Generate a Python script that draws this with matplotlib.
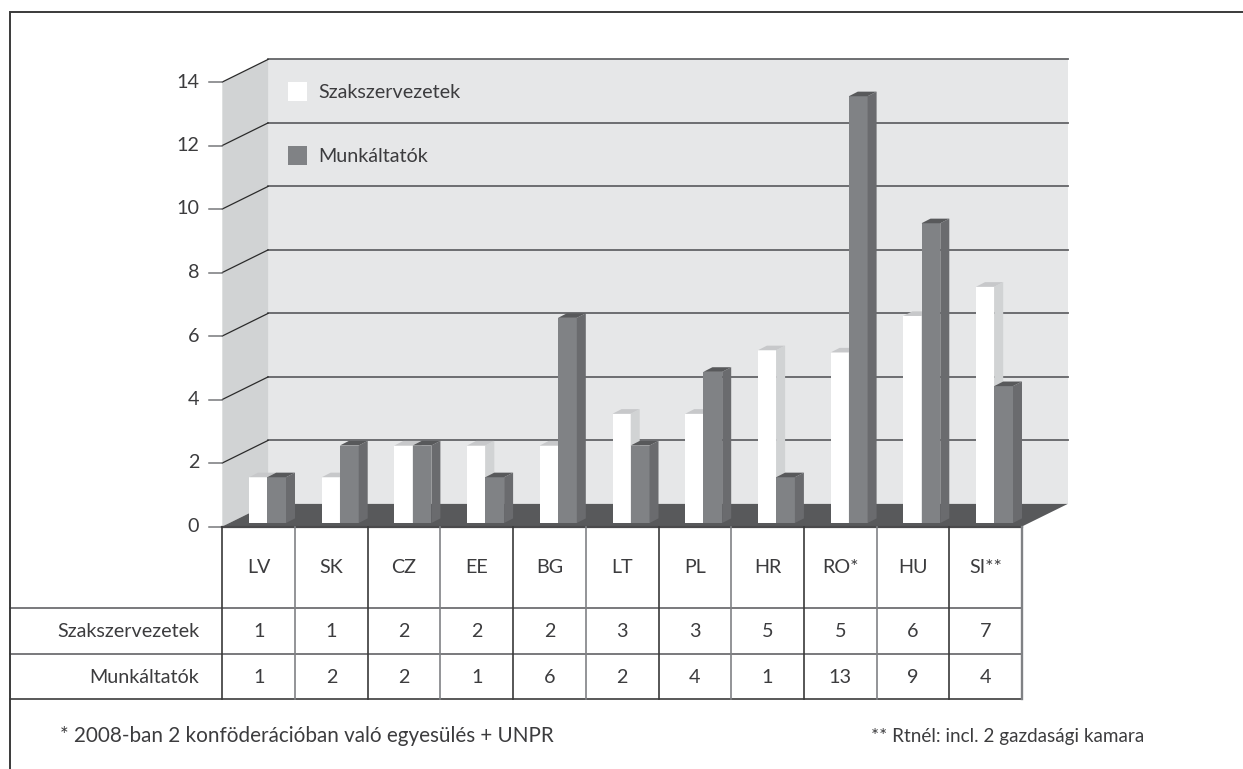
import matplotlib
matplotlib.use("Agg")
import matplotlib.pyplot as plt
from matplotlib.patches import Polygon, Rectangle
from matplotlib.transforms import blended_transform_factory

# ---- data ----
categories = ["LV", "SK", "CZ", "EE", "BG", "LT", "PL", "HR", "RO*", "HU", "SI**"]
szakszervezetek = [1, 1, 2, 2, 2, 3, 3, 5, 5, 6, 7]
munkaltatok = [1, 2, 2, 1, 6, 2, 4, 1, 13, 9, 4]
# bar heights as drawn in the picture (slightly off the table in places)
szak_drawn = [1, 1, 2, 2, 2, 3, 3, 5, 4.93, 6.08, 7]
munk_drawn = [1, 2, 2, 1, 6.02, 2, 4.32, 1, 13, 9, 3.87]
y_ticks = [0, 2, 4, 6, 8, 10, 12, 14]
series_names = ["Szakszervezetek", "Munkáltatók"]
note_left = "* 2008-ban 2 konföderációban való egyesülés + UNPR"
note_right = "** Rtnél: incl. 2 gazdasági kamara"

plt.rcParams["font.family"] = ["Lato", "DejaVu Sans"]
TXT = "#3c3c3e"
FS = 14.2

W, H = 1243, 769
fig = plt.figure(figsize=(W / 100, H / 100), dpi=100)

# full-figure overlay in pixels for the frame and layout text
px = fig.add_axes([0, 0, 1, 1])
px.set_xlim(0, W); px.set_ylim(H, 0); px.axis("off")

# data axes: one x-unit per category, y-unit per value
X0, Y0, UX, UY = 222.3, 526.5, 72.7, 31.75
ax = fig.add_axes([0, 0, 1, 1], zorder=2)
ax.set_xlim(-X0 / UX, (W - X0) / UX)
ax.set_ylim((Y0 - H) / UY, Y0 / UY)
ax.axis("off")
ax.patch.set_alpha(0)

DX, DY = 45.8 / UX, 22.6 / UY      # wall depth
n = len(categories)
top = y_ticks[-1]

WALL, SIDE_WALL, FLOOR = "#e6e7e8", "#d1d3d4", "#58595b"
GRID = "#636467"

# walls and floor
ax.add_patch(Polygon([(DX, DY), (n + DX, DY), (n + DX, top + DY), (DX, top + DY)], fc=WALL, ec="none", zorder=1))
ax.add_patch(Polygon([(0, 0), (DX, DY), (DX, top + DY), (0, top)], fc=SIDE_WALL, ec="none", zorder=1))
ax.add_patch(Polygon([(0, 0), (n, 0), (n + DX, DY), (DX, DY)], fc=FLOOR, ec="none", zorder=2))

# gridlines, diagonals, ticks
for v in y_ticks:
    if v > 0:
        ax.plot([DX, n + DX], [v + DY, v + DY], color=GRID, lw=1.3, zorder=2)
        ax.plot([0, DX], [v, v + DY], color="#2b2b2b", lw=0.9, zorder=2)
    ax.plot([-13 / UX, 0], [v, v], color="#77787b", lw=1.1, zorder=2)
    ax.text(-23 / UX, v, str(v), ha="right", va="center", fontsize=FS, color=TXT, zorder=5)
ax.plot([0, n], [0, 0], color="#4a4a4c", lw=1.6, zorder=3)

# 3D bars: constant front-plane shift, then value
BOTTOM, SHIFT = 3.5 / UY, 17.5 / UY
BW1, BW2 = 18.2 / UX, 18.8 / UX
BX = 26.7 / UX
SX, SY = 9.0 / UX, 4.6 / UY


def bar3d(xl, w, v, front, side, topc, z):
    yt = v + SHIFT
    ax.bar(xl, yt - BOTTOM, width=w, bottom=BOTTOM, align="edge", color=front, lw=0, zorder=z)
    ax.add_patch(Polygon([(xl + w, BOTTOM), (xl + w + SX, BOTTOM + SY), (xl + w + SX, yt + SY), (xl + w, yt)],
                         fc=side, ec="none", zorder=z))
    ax.add_patch(Polygon([(xl, yt), (xl + w, yt), (xl + w + SX, yt + SY), (xl + SX, yt + SY)],
                         fc=topc, ec="none", zorder=z))


for i in range(n):
    bar3d(i + BX, BW1, szak_drawn[i], "#ffffff", "#d1d3d4", "#c7c8ca", 4 + i * 0.01)
    bar3d(i + BX + BW1, BW2, munk_drawn[i], "#808285", "#6a6b6e", "#58595b", 4.005 + i * 0.01)

# legend
for yy, c, name in [(82, "#ffffff", series_names[0]), (146, "#808285", series_names[1])]:
    px_rect = Rectangle((288, yy), 19, 19, fc=c, ec="none", zorder=6, transform=px.transData)
    ax.add_patch(px_rect)
    ax.text(318, yy + 10.5, name, transform=px.transData, ha="left", va="center", fontsize=FS, color=TXT, zorder=6)

# data table
tx = blended_transform_factory(ax.transData, px.transData)
DARK, MID = "#3a3a3a", "#808285"
for i in range(n + 1):
    col = MID if i % 2 else DARK
    if i == n:
        col = MID
    lw = 1.7 if i == n else 1.2
    ax.plot([i, i], [0, (Y0 - 699) / UY], color=col, lw=lw, zorder=3)
for yy in (608, 654, 699):
    px.plot([10, X0 + n * UX], [yy, yy], color="#555558" if yy != 699 else "#2b2b2b", lw=1.1)
for i in range(n):
    ax.text(i + 0.5, 567.5, categories[i], transform=tx, ha="center", va="center", fontsize=FS, color=TXT, zorder=5)
    ax.text(i + 0.5, 631.5, str(szakszervezetek[i]), transform=tx, ha="center", va="center", fontsize=FS, color=TXT, zorder=5)
    ax.text(i + 0.5, 677.5, str(munkaltatok[i]), transform=tx, ha="center", va="center", fontsize=FS, color=TXT, zorder=5)
px.text(199, 631.5, series_names[0], ha="right", va="center", fontsize=FS, color=TXT)
px.text(199, 677.5, series_names[1], ha="right", va="center", fontsize=FS, color=TXT)

# frame (open on the right and bottom)
px.plot([W, 10, 10], [11.5, 11.5, H], color="#3a3a3a", lw=1.4, solid_joinstyle="miter")

# notes
px.text(60, 736.5, note_left, ha="left", va="center", fontsize=14.9, color=TXT)
px.text(1144, 736.5, note_right, ha="right", va="center", fontsize=13.6, color=TXT)

fig.savefig("out.png", dpi=100, facecolor="white")
